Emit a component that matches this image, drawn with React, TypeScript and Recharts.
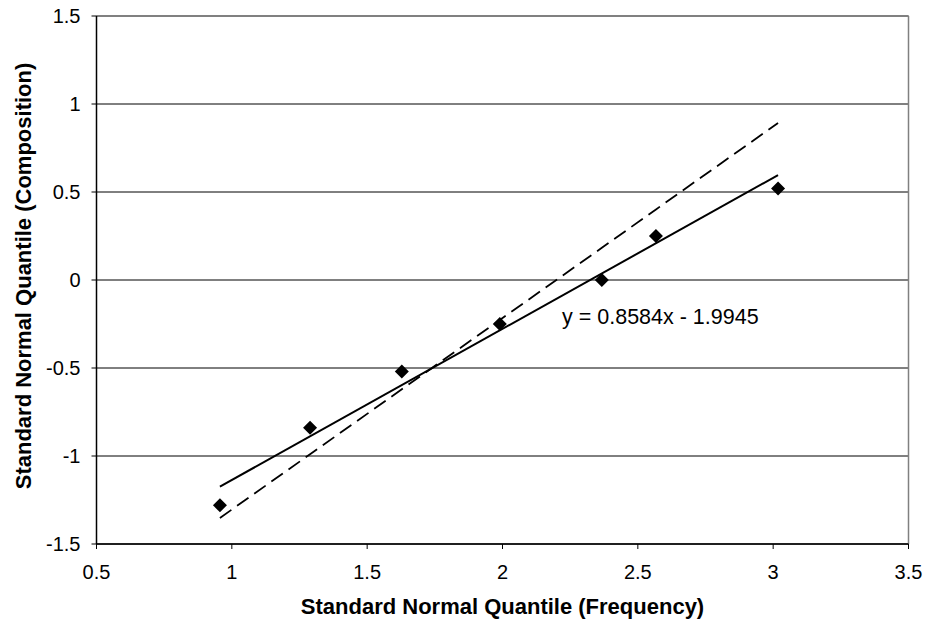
import React from "react";
import {
  ComposedChart,
  Scatter,
  Line,
  XAxis,
  YAxis,
  CartesianGrid,
  ReferenceLine,
  Customized,
} from "recharts";

const freqQuantiles = [0.956, 1.289, 1.628, 1.99, 2.367, 2.567, 3.018];
const compQuantiles = [-1.28, -0.84, -0.52, -0.25, 0.0, 0.25, 0.52];
const trendX = [0.956, 3.018];
const trendY = [-1.174, 0.596];
const dashedY = [-1.352, -0.99, -0.621, -0.227, 0.183, 0.401, 0.892];
const xTicks = [0.5, 1, 1.5, 2, 2.5, 3, 3.5];
const yTicks = [-1.5, -1, -0.5, 0, 0.5, 1, 1.5];
const equationText = "y = 0.8584x - 1.9945";
const xTitle = "Standard Normal Quantile (Frequency)";
const yTitle = "Standard Normal Quantile (Composition)";

const points = freqQuantiles.map((x, i) => ({ x, y: compQuantiles[i] }));
const trend = trendX.map((x, i) => ({ x, y: trendY[i] }));
const dashed = freqQuantiles.map((x, i) => ({ x, y: dashedY[i] }));

const FONT = "'Liberation Sans', Arial, sans-serif";

const Diamond = (props: any) => {
  const { cx, cy } = props;
  if (cx == null || cy == null) return null;
  const r = 7;
  return (
    <polygon
      points={`${cx},${cy - r} ${cx + r},${cy} ${cx},${cy + r} ${cx - r},${cy}`}
      fill="#000"
    />
  );
};

const fmt = (v: number) => String(v);

export default function App() {
  return (
    <div style={{ position: "absolute", left: 0, top: 0, background: "#fff" }}>
      <ComposedChart
        width={928}
        height={623}
        margin={{ top: 16, right: 19.5, bottom: 0, left: 0 }}
        style={{ fontFamily: FONT }}
      >
        <CartesianGrid horizontal vertical={false} stroke="#000" strokeWidth={1} />
        <XAxis
          type="number"
          dataKey="x"
          domain={[0.5, 3.5]}
          ticks={xTicks}
          tickFormatter={fmt}
          height={79}
          axisLine={{ stroke: "#000", strokeWidth: 1.5 }}
          tickLine={{ stroke: "#000", strokeWidth: 1 }}
          tickSize={5}
          tickMargin={16}
          tick={{ fill: "#000", fontSize: 20, fontFamily: FONT }}
          allowDataOverflow
          label={{
            content: () => (
              <text
                x={502.5}
                y={614}
                textAnchor="middle"
                fontSize={22}
                fontWeight="bold"
                fontFamily={FONT}
                fill="#000"
              >
                {xTitle}
              </text>
            ),
          }}
        />
        <YAxis
          type="number"
          dataKey="y"
          domain={[-1.5, 1.5]}
          ticks={yTicks}
          tickFormatter={fmt}
          width={96.5}
          axisLine={{ stroke: "#000", strokeWidth: 1.5 }}
          tickLine={{ stroke: "#000", strokeWidth: 1 }}
          tickSize={5}
          tickMargin={11}
          tick={{ fill: "#000", fontSize: 20, fontFamily: FONT }}
          allowDataOverflow
          label={{
            content: () => (
              <text
                x={31}
                y={276}
                transform="rotate(-90 31 276)"
                textAnchor="middle"
                fontSize={22}
                fontWeight="bold"
                fontFamily={FONT}
                fill="#000"
              >
                {yTitle}
              </text>
            ),
          }}
        />
        <ReferenceLine y={1.5} stroke="#808080" strokeWidth={1.5} />
        <ReferenceLine x={3.5} stroke="#808080" strokeWidth={1.5} />
        <Line
          data={dashed}
          dataKey="y"
          type="linear"
          stroke="#000"
          strokeWidth={1.8}
          strokeDasharray="14 7"
          dot={false}
          activeDot={false}
          isAnimationActive={false}
        />
        <Line
          data={trend}
          dataKey="y"
          type="linear"
          stroke="#000"
          strokeWidth={2}
          dot={false}
          activeDot={false}
          isAnimationActive={false}
        />
        <Scatter
          data={points}
          dataKey="y"
          fill="#000"
          shape={<Diamond />}
          isAnimationActive={false}
        />
        <Customized
          component={() => (
            <text x={562} y={324} fontSize={21.5} fontFamily={FONT} fill="#000">
              {equationText}
            </text>
          )}
        />
      </ComposedChart>
    </div>
  );
}
